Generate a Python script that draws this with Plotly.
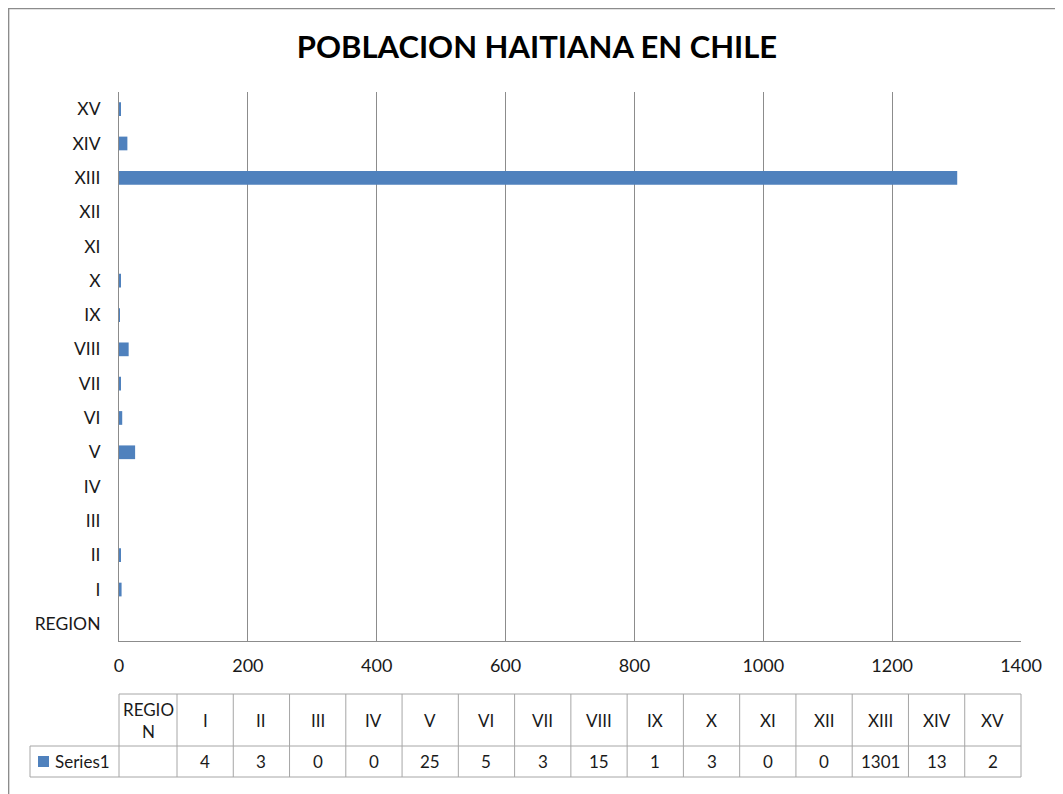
import plotly.graph_objects as go

# datos
regiones = ["REGION", "I", "II", "III", "IV", "V", "VI", "VII", "VIII",
            "IX", "X", "XI", "XII", "XIII", "XIV", "XV"]
poblacion = [None, 4, 3, 0, 0, 25, 5, 3, 15, 1, 3, 0, 0, 1301, 13, 2]
serie = "Series1"
x_ticks = [0, 200, 400, 600, 800, 1000, 1200, 1400]

BLUE = "#4F81BD"
GRID = "#8c8c8c"
TBL = "#a6a6a6"
TXT = "#1a1a1a"
FONT = "Lato, 'Open Sans', sans-serif"

# la página tiene 8px de margen en el body
OFF = 8
W, H = 1063 - OFF, 794 - OFF


def px(x):
    return (x - OFF) / W


def py(y):
    return 1 - (y - OFF) / H


fig = go.Figure()
fig.add_trace(go.Bar(
    x=poblacion, y=regiones, orientation="h",
    marker=dict(color=BLUE, line=dict(width=0)),
    showlegend=False, name=serie,
))

# tabla de datos (dibujada con líneas y textos)
L_LEG, L_REG, R_TAB = 30, 119, 1021
T_HDR, T_ROW, B_ROW = 694, 746, 777
cw = (R_TAB - 177) / (len(regiones) - 1)
edges = [L_REG, 177] + [177 + cw * (i + 1) for i in range(len(regiones) - 1)]

shapes = []
annotations = []


def hline(x0, x1, y):
    shapes.append(dict(type="line", xref="paper", yref="paper",
                       x0=px(x0), x1=px(x1), y0=py(y), y1=py(y),
                       line=dict(color=TBL, width=1)))


def vline(x, y0, y1):
    shapes.append(dict(type="line", xref="paper", yref="paper",
                       x0=px(x), x1=px(x), y0=py(y0), y1=py(y1),
                       line=dict(color=TBL, width=1)))


hline(L_REG, R_TAB, T_HDR)
hline(L_LEG, R_TAB, T_ROW)
hline(L_LEG, R_TAB, B_ROW)
vline(L_LEG, T_ROW, B_ROW)
for e in edges:
    vline(e, T_HDR, B_ROW)

hdr_txt = ["REGIO<br>N"] + regiones[1:]
val_txt = [""] + [str(v) for v in poblacion[1:]]
for i in range(len(regiones)):
    cx = (edges[i] + edges[i + 1]) / 2
    annotations.append(dict(
        text=hdr_txt[i], x=px(cx), y=py((T_HDR + T_ROW) / 2),
        xref="paper", yref="paper", showarrow=False,
        xanchor="center", yanchor="middle",
        font=dict(family=FONT, size=17, color=TXT)))
    annotations.append(dict(
        text=val_txt[i], x=px(cx), y=py((T_ROW + B_ROW) / 2),
        xref="paper", yref="paper", showarrow=False,
        xanchor="center", yanchor="middle",
        font=dict(family=FONT, size=17, color=TXT)))

# clave de la leyenda
shapes.append(dict(type="rect", xref="paper", yref="paper",
                   x0=px(38), x1=px(49), y0=py(767), y1=py(756),
                   fillcolor=BLUE, line=dict(width=0)))
annotations.append(dict(
    text=serie, x=px(53), y=py((T_ROW + B_ROW) / 2),
    xref="paper", yref="paper", showarrow=False,
    xanchor="left", yanchor="middle",
    font=dict(family=FONT, size=17, color=TXT)))

# borde exterior
shapes.append(dict(type="rect", xref="paper", yref="paper",
                   x0=0.6 / W, x1=1.05, y0=-0.05, y1=1 - 0.6 / H,
                   line=dict(color="#8c8c8c", width=1.5),
                   fillcolor="rgba(0,0,0,0)"))

fig.update_layout(
    width=W, height=H,
    margin=dict(l=0, r=0, t=0, b=0, autoexpand=False),
    paper_bgcolor="white", plot_bgcolor="white",
    font=dict(family=FONT, color=TXT),
    bargap=0.6,
    title=dict(
        text="<b>POBLACION HAITIANA EN CHILE</b>",
        x=px(537), xanchor="center", y=py(47), yanchor="middle",
        font=dict(family=FONT, size=31, color="#000000"),
    ),
    xaxis=dict(
        domain=[px(L_REG), px(R_TAB)], range=[0, 1400],
        tickvals=x_ticks, showgrid=True, gridcolor=GRID, gridwidth=1,
        zeroline=False, showline=True, linecolor=GRID, linewidth=1,
        ticks="", ticklabelstandoff=8,
        tickfont=dict(family=FONT, size=18, color=TXT),
    ),
    yaxis=dict(
        domain=[py(641), py(92)],
        categoryorder="array", categoryarray=regiones,
        showgrid=False, showline=True, linecolor=GRID, linewidth=1,
        ticks="", ticklabelstandoff=14,
        tickfont=dict(family=FONT, size=17.5, color=TXT),
    ),
    shapes=shapes,
    annotations=annotations,
)

fig.write_html("out.html")
